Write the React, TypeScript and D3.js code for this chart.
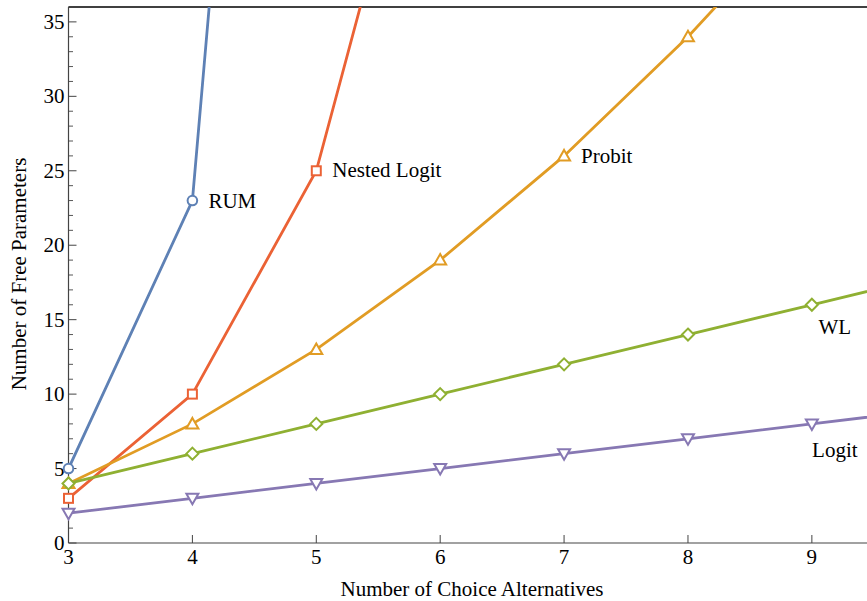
import React from "react";
import * as d3 from "d3";

const alternatives = [3, 4, 5, 6, 7, 8, 9, 10];
const rumValues = [5, 23, 119];
const nestedLogitValues = [3, 10, 25, 56];
const probitValues = [4, 8, 13, 19, 26, 34, 43];
const wlValues = [4, 6, 8, 10, 12, 14, 16, 18];
const logitValues = [2, 3, 4, 5, 6, 7, 8, 9];
const xTicks = [3, 4, 5, 6, 7, 8, 9];
const yTicks = [0, 5, 10, 15, 20, 25, 30, 35];

const series = [
  { name: "RUM", values: rumValues, color: "#5E81B5", marker: "circle" },
  { name: "Nested Logit", values: nestedLogitValues, color: "#EB6235", marker: "square" },
  { name: "Probit", values: probitValues, color: "#E19C24", marker: "up" },
  { name: "WL", values: wlValues, color: "#8FB032", marker: "diamond" },
  { name: "Logit", values: logitValues, color: "#8778B3", marker: "down" },
];

// label anchor: which point, and pixel offset
const labels = [
  { name: "RUM", at: 4, dx: 16, dy: 7, anchor: "start" },
  { name: "Nested Logit", at: 5, dx: 16, dy: 6, anchor: "start" },
  { name: "Probit", at: 7, dx: 17, dy: 7, anchor: "start" },
  { name: "WL", at: 9, dx: 23, dy: 29, anchor: "middle" },
  { name: "Logit", at: 9, dx: 23, dy: 33, anchor: "middle" },
];

const W = 867;
const H = 601;
const font = "'Liberation Serif', 'Times New Roman', serif";
const fs = 21;

function Marker({ type, x, y, color }: { type: string; x: number; y: number; color: string }) {
  const common = { fill: "white", stroke: color, strokeWidth: 2 };
  if (type === "circle") return <circle cx={x} cy={y} r={4.8} {...common} />;
  if (type === "square") return <rect x={x - 4.5} y={y - 4.5} width={9} height={9} {...common} />;
  if (type === "diamond")
    return <path d={`M${x},${y - 6}L${x + 6},${y}L${x},${y + 6}L${x - 6},${y}Z`} {...common} />;
  if (type === "up")
    return <path d={`M${x},${y - 6}L${x + 6},${y + 4.5}L${x - 6},${y + 4.5}Z`} {...common} />;
  return <path d={`M${x},${y + 6}L${x + 6},${y - 4.5}L${x - 6},${y - 4.5}Z`} {...common} />;
}

export default function App() {
  const left = 68.5;
  const right = W;
  const top = 7;
  const bottom = 543;

  const x = d3.scaleLinear().domain([3, 9.445]).range([left, right]);
  const y = d3.scaleLinear().domain([0, 36]).range([bottom, top]);

  const line = d3
    .line<number>()
    .x((_, i) => x(alternatives[i]))
    .y((d) => y(d));

  const minorY = d3.range(0, 37, 1).filter((v) => v % 5 !== 0);

  return (
    <svg width={W} height={H} style={{ position: "absolute", left: 0, top: 0, background: "white" }}>
      <defs>
        <clipPath id="plot">
          <rect x={left} y={top} width={right - left} height={bottom - top} />
        </clipPath>
      </defs>

      {/* frame */}
      <line x1={left} x2={right} y1={top} y2={top} stroke="#000" strokeWidth={1.3} />
      <line x1={left} x2={left} y1={top} y2={bottom} stroke="#444" strokeWidth={1.2} />
      <line x1={left} x2={right} y1={bottom} y2={bottom} stroke="#444" strokeWidth={1.2} />

      {/* x ticks */}
      {xTicks.map((t) => (
        <g key={t}>
          <line x1={x(t)} x2={x(t)} y1={bottom} y2={bottom - 8} stroke="#444" strokeWidth={1} />
          <text x={x(t)} y={bottom + 21} textAnchor="middle" fontFamily={font} fontSize={fs}>
            {t}
          </text>
        </g>
      ))}

      {/* y ticks */}
      {yTicks.map((t) => (
        <g key={t}>
          <line x1={left} x2={left + 8} y1={y(t)} y2={y(t)} stroke="#444" strokeWidth={1} />
          <text x={left - 4} y={y(t) + 7} textAnchor="end" fontFamily={font} fontSize={fs}>
            {t}
          </text>
        </g>
      ))}
      {minorY.map((t) => (
        <line key={t} x1={left} x2={left + 4.5} y1={y(t)} y2={y(t)} stroke="#444" strokeWidth={0.9} />
      ))}

      {/* lines */}
      <g clipPath="url(#plot)">
        {series.map((s) => (
          <path key={s.name} d={line(s.values) || ""} fill="none" stroke={s.color} strokeWidth={2.8} />
        ))}
      </g>

      {/* markers */}
      {series.map((s) =>
        s.values.map((v, i) =>
          v <= 36 && alternatives[i] <= 9.445 ? (
            <Marker key={s.name + i} type={s.marker} x={x(alternatives[i])} y={y(v)} color={s.color} />
          ) : null
        )
      )}

      {/* labels */}
      {labels.map((l) => {
        const s = series.find((d) => d.name === l.name)!;
        const idx = alternatives.indexOf(l.at);
        return (
          <text
            key={l.name}
            x={x(l.at) + l.dx}
            y={y(s.values[idx]) + l.dy}
            textAnchor={l.anchor as any}
            fontFamily={font}
            fontSize={fs}
          >
            {l.name}
          </text>
        );
      })}

      {/* axis titles */}
      <text x={472} y={596} textAnchor="middle" fontFamily={font} fontSize={fs}>
        Number of Choice Alternatives
      </text>
      <text
        transform={`translate(26, ${274}) rotate(-90)`}
        textAnchor="middle"
        fontFamily={font}
        fontSize={fs}
      >
        Number of Free Parameters
      </text>
    </svg>
  );
}
